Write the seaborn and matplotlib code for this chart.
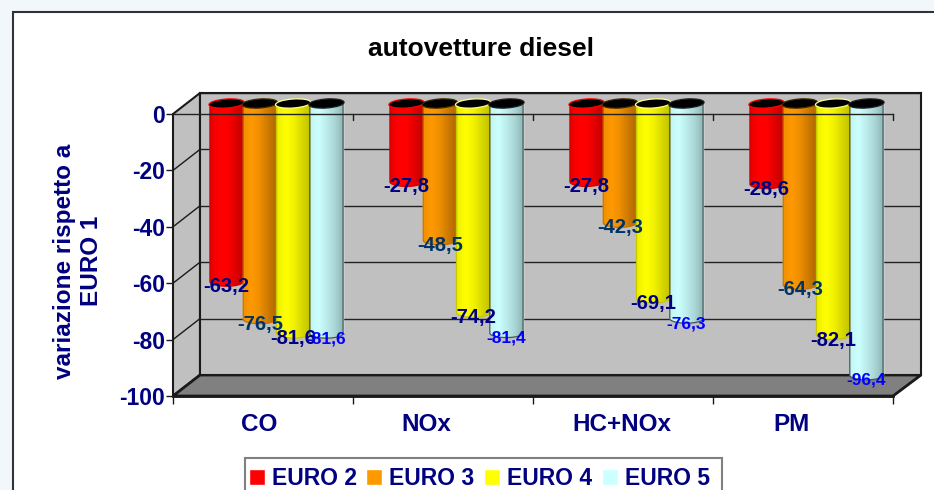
import numpy as np
import pandas as pd
import seaborn as sns
import matplotlib.pyplot as plt
from matplotlib.colors import LinearSegmentedColormap
from matplotlib.patches import Ellipse, PathPatch, Polygon, Rectangle
from matplotlib.path import Path
from matplotlib.transforms import Affine2D, IdentityTransform, ScaledTranslation

# --- Data ---
categories = ["CO", "NOx", "HC+NOx", "PM"]
euro2 = [-63.2, -27.8, -27.8, -28.6]
euro3 = [-76.5, -48.5, -42.3, -64.3]
euro4 = [-81.6, -74.2, -69.1, -82.1]
euro5 = [-81.6, -81.4, -76.3, -96.4]
series_names = ["EURO 2", "EURO 3", "EURO 4", "EURO 5"]
y_ticks = [0, -20, -40, -60, -80, -100]

# --- Colours ---
NAVY = "#000080"
base_colors = ["#FF0000", "#FF9900", "#FFFF00", "#CCFFFF"]
gradients = [
    ["#E80000", "#FF0000", "#FF0000", "#E00000", "#C00000"],
    ["#F09000", "#FF9900", "#EE8E00", "#CC7A00", "#B06800"],
    ["#F0F000", "#FFFF00", "#F2F200", "#D8D800", "#C0C000"],
    ["#C4F5F5", "#CCFFFF", "#BCEBEB", "#A8D4D4", "#8FB3B3"],
]
edge_colors = ["#D00000", "#C07400", "#C8C800", "#405858"]
rim_colors = ["#FF0000", "#402800", "#FFFF90", "#202020"]
label_colors = [NAVY, "#003366", NAVY, "#0000FF"]
label_sizes = [14.5, 14.5, 14.5, 12.5]
# the original labels are not centred on their groups
cat_label_shift = [-4, -17, -1, -12]

sns.set_theme(style="white")
plt.rcParams["font.family"] = ["Liberation Sans", "DejaVu Sans"]
plt.rcParams["font.weight"] = "bold"

W, H = 934, 490
fig = plt.figure(figsize=(W / 100, H / 100), dpi=100, facecolor="#F2F7FC")
to_fig = Affine2D().scale(1 / W, -1 / H).translate(0, 1) + fig.transFigure


def axes_at(left, top, right, bottom, zorder):
    a = fig.add_axes([left / W, 1 - bottom / H, (right - left) / W, (bottom - top) / H])
    a.set_zorder(zorder)
    return a


def add_shape(points, color, zorder=1, lw=1.5):
    fig.add_artist(Polygon(points, closed=True, facecolor=color, edgecolor="#1A1A1A",
                           linewidth=lw, transform=to_fig, zorder=zorder))


# --- White chart area with its dark frame ---
fig.add_artist(Rectangle((13, 12), W + 20, H + 20, facecolor="white", edgecolor="#30343A",
                         linewidth=1.5, transform=to_fig, zorder=0.2))

# --- Back wall, side wall and floor ---
add_shape([(173, 114), (200, 93), (200, 375), (173, 396)], "#C0C0C0", zorder=0.5)
add_shape([(173, 396), (200, 375), (921, 375), (893, 396)], "#808080", zorder=0.6, lw=2)

ax_back = axes_at(200, 93, 921, 375, 0.7)
ax_back.set_facecolor("#C0C0C0")
ax_back.set_ylim(-100, 0)
ax_back.set_xlim(0, 1)
ax_back.set_xticks([])
ax_back.set_yticks(y_ticks)
ax_back.set_yticklabels([])
ax_back.tick_params(length=0)
ax_back.grid(axis="y", color="#222222", linewidth=1)
for side in ax_back.spines.values():
    side.set_color("#1A1A1A")
    side.set_linewidth(1.5)

# --- Long table for seaborn ---
plot_df = pd.DataFrame({
    "categoria": categories * 4,
    "serie": np.repeat(series_names, len(categories)),
    "valore": euro2 + euro3 + euro4 + euro5,
})

# --- Bars sit halfway through the depth of the box ---
ax_bar = axes_at(186.5, 103.5, 906.5, 385.5, 1)
ax_bar.patch.set_alpha(0)
sns.barplot(data=plot_df, x="categoria", y="valore", hue="serie", order=categories,
            hue_order=series_names, palette=base_colors, width=0.74, gap=0,
            saturation=1, errorbar=None, ax=ax_bar)
handles, labels = ax_bar.get_legend_handles_labels()
ax_bar.get_legend().remove()
ax_bar.set_xlim(-0.5, 3.5)
ax_bar.set_ylim(-100, 0)
ax_bar.set_axis_off()

ELL_H = 9.0  # ellipse height in pixels
px_per_unit = 2.82
px_per_cat = 180
ell_data = ELL_H / px_per_unit

for s, container in enumerate(ax_bar.containers):
    cmap = LinearSegmentedColormap.from_list(f"cyl{s}", gradients[s])
    for bar in container:
        x0, w = bar.get_x(), bar.get_width()
        v = min(bar.get_y(), bar.get_y() + bar.get_height())
        xc = x0 + w / 2
        # outline: straight sides, rounded lower end
        t = np.linspace(np.pi, 2 * np.pi, 40)
        xs = xc + w / 2 * np.cos(t)
        ys = v + ell_data / 2 * np.sin(t)
        verts = np.vstack([[x0, 0], np.column_stack([xs, ys]), [x0 + w, 0], [x0, 0]])
        outline = PathPatch(Path(verts), facecolor="none", edgecolor=edge_colors[s],
                            linewidth=0.9, transform=ax_bar.transData, zorder=3)
        ax_bar.add_patch(outline)
        im = ax_bar.imshow(np.linspace(0, 1, 64).reshape(1, -1), cmap=cmap, aspect="auto",
                           extent=(x0, x0 + w, v - ell_data, 0), zorder=2.5)
        im.set_clip_path(outline)
        # black mouth of the cylinder, tilted slightly like the original
        cx, cy = ax_bar.transData.transform((xc, 0))
        ax_bar.add_patch(Ellipse((cx, cy), w * px_per_cat + 2, ELL_H, angle=4,
                                 facecolor="black", edgecolor=rim_colors[s], linewidth=0.9,
                                 transform=IdentityTransform(), clip_on=False, zorder=4))
        ax_bar.annotate(f"{v:.1f}".replace(".", ","), (xc, v), xytext=(0, -5),
                        textcoords="offset pixels", ha="center", va="center",
                        fontsize=label_sizes[s], fontweight="bold", color=label_colors[s],
                        annotation_clip=False, zorder=6)
ax_bar.set_xlim(-0.5, 3.5)
ax_bar.set_ylim(-100, 0)

# --- Front plane: axis line at zero, ticks and labels ---
ax = axes_at(173, 114, 893, 396, 3)
ax.patch.set_alpha(0)
ax.set_xlim(-0.5, 3.5)
ax.set_ylim(-100, 0)
ax.set_yticks(y_ticks)
ax.set_yticklabels([str(v) for v in y_ticks], fontsize=16.5, color=NAVY, fontweight="bold")
ax.set_xticks(range(len(categories)))
ax.set_xticklabels(categories, fontsize=17.5, color=NAVY, fontweight="bold")
ax.set_xticks(np.arange(-0.5, 4, 1), minor=True)
ax.tick_params(axis="x", which="major", length=0, pad=12)
ax.tick_params(axis="x", which="minor", bottom=True, length=6, width=1, color="#1A1A1A")
ax.tick_params(axis="y", left=True, length=5, width=1, color="#1A1A1A", pad=0.5)
for lab, shift in zip(ax.get_xticklabels(), cat_label_shift):
    lab.set_transform(lab.get_transform() + ScaledTranslation(shift / 100, 0, fig.dpi_scale_trans))
ax.spines["right"].set_visible(False)
ax.spines["bottom"].set_color("#1A1A1A")
ax.spines["bottom"].set_linewidth(2)
ax.spines["left"].set_color("#1A1A1A")
ax.spines["left"].set_linewidth(1.2)
ax.spines["top"].set_color("#222222")
ax.spines["top"].set_linewidth(1)

# minor ticks along the zero line, pointing into the plot
for xt in np.arange(0.5, 4, 1):
    ax.plot([xt, xt], [0, -2], color="#1A1A1A", linewidth=1, clip_on=False)

# side wall gridlines run from the front plane to the back wall
for v in y_ticks[1:-1]:
    py = 114 + (-v) * px_per_unit
    fig.add_artist(plt.Line2D([173, 200], [py, py - 21], color="#1A1A1A", linewidth=1,
                              transform=to_fig, zorder=0.55))

# --- Texts ---
fig.text(481 / W, 1 - 48.5 / H, "autovetture diesel", ha="center", va="center",
         fontsize=19, fontweight="bold", color="black", zorder=5)
fig.text(78 / W, 1 - 261 / H, "variazione rispetto a\nEURO 1", ha="center", va="center",
         rotation=90, fontsize=17.5, fontweight="bold", color=NAVY, linespacing=1.2, zorder=5)

# --- Legend, with its box drawn apart so the entries can sit where they do in the original ---
fig.add_artist(Rectangle((245, 458), 477, 50, facecolor="white", edgecolor="#808080",
                         linewidth=1.5, transform=to_fig, zorder=4.8))
leg = fig.legend(handles, labels, loc="upper left", bbox_to_anchor=(242 / W, 1 - 460 / H),
                 ncols=4, frameon=False, fontsize=16.5, labelcolor=NAVY, handlelength=0.7,
                 handleheight=0.7, handletextpad=0.3, columnspacing=0.42, borderpad=0.3,
                 borderaxespad=0)
leg.set_zorder(5)

plt.savefig("out.png", dpi=100, facecolor=fig.get_facecolor())
